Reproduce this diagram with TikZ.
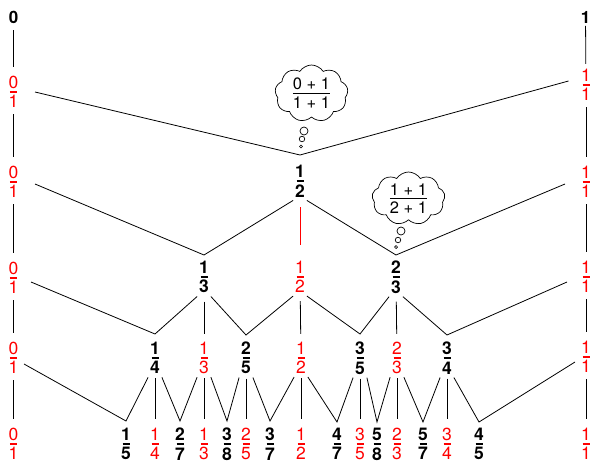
\documentclass[tikz,border=0pt]{standalone}
\usepackage{fontspec}
\setmainfont{TeX Gyre Heros}
\usetikzlibrary{shapes.symbols,calc}

\definecolor{fracred}{RGB}{255,0,0}

% stacked fraction: numerator, short bar, denominator
\newcommand\stackfrac[3]{\vbox{\offinterlineskip
  \hbox to 10pt{\hss#2\hss}\kern2.5pt
  \hbox to 10pt{\hss\vrule width 7pt height #1 depth 0pt\hss}\kern2.5pt
  \hbox to 10pt{\hss#3\hss}}}
\newcommand\bfr[2]{\stackfrac{2pt}{#1}{#2}}
\newcommand\rfr[2]{\stackfrac{1.5pt}{#1}{#2}}
% fraction written inside a thought cloud
\newcommand\sumfrac[2]{\vbox{\offinterlineskip
  \hbox{#1}\kern3pt\hrule height .8pt\kern3pt\hbox{#2}}}

\tikzset{
  numfont/.style={font=\fontsize{17.5}{19}\selectfont},
  fracnode/.style={numfont, inner xsep=1.5pt, inner ysep=3pt},
  blk/.style={fracnode, font=\fontsize{17.5}{19}\selectfont\bfseries},
  rd/.style={fracnode, text=fracred},
  endlabel/.style={font=\fontsize{17}{19}\selectfont\bfseries, inner sep=0pt},
  stem/.style={shorten <=3pt, shorten >=6pt},
  thought/.style={cloud, draw, cloud puffs=9, cloud puff arc=115, aspect=1.3,
    inner sep=0pt, font=\fontsize{16.5}{18}\selectfont, line width=0.7pt},
  puff/.style={circle, draw, inner sep=0pt, line width=0.7pt},
}

\begin{document}
\begin{tikzpicture}[x=1pt, y=-1pt, line width=0.8pt]
\useasboundingbox (0,0) rectangle (592,463);

% ends of the interval
\node[endlabel] (zero) at (13.5,17.5) {0};
\node[endlabel] (one) at (585.5,17.5) {1};

% left column 0/1
\node[rd] (L1) at (13.5,92) {\rfr{0}{1}};
\node[rd] (L2) at (13.5,182) {\rfr{0}{1}};
\node[rd] (L3) at (13.5,278) {\rfr{0}{1}};
\node[rd] (L4) at (13.5,358) {\rfr{0}{1}};
\node[rd] (L5) at (13.5,444) {\rfr{0}{1}};

% right column 1/1
\node[rd] (R1) at (586,85) {\rfr{1}{1}};
\node[rd] (R2) at (586,182) {\rfr{1}{1}};
\node[rd] (R3) at (586,277) {\rfr{1}{1}};
\node[rd] (R4) at (586,357) {\rfr{1}{1}};
\node[rd] (R5) at (586,444) {\rfr{1}{1}};

% level 2
\node[blk] (h) at (300,181) {\bfr{1}{2}};

% level 3
\node[blk] (a3) at (204,277) {\bfr{1}{3}};
\node[rd]  (b3) at (300,277) {\rfr{1}{2}};
\node[blk] (c3) at (396,277) {\bfr{2}{3}};

% level 4
\node[blk] (d1) at (155,358) {\bfr{1}{4}};
\node[rd]  (d2) at (204,358) {\rfr{1}{3}};
\node[blk] (d3) at (246,358) {\bfr{2}{5}};
\node[rd]  (d4) at (301,358) {\rfr{1}{2}};
\node[blk] (d5) at (360,358) {\bfr{3}{5}};
\node[rd]  (d6) at (397,358) {\rfr{2}{3}};
\node[blk] (d7) at (447,358) {\bfr{3}{4}};

% level 5
\node[blk] (e1)  at (126,444) {\bfr{1}{5}};
\node[rd]  (e2)  at (155,444) {\rfr{1}{4}};
\node[blk] (e3)  at (180,444) {\bfr{2}{7}};
\node[rd]  (e4)  at (204,444) {\rfr{1}{3}};
\node[blk] (e5)  at (227,444) {\bfr{3}{8}};
\node[rd]  (e6)  at (246,444) {\rfr{2}{5}};
\node[blk] (e7)  at (270,444) {\bfr{3}{7}};
\node[rd]  (e8)  at (301,444) {\rfr{1}{2}};
\node[blk] (e9)  at (337,444) {\bfr{4}{7}};
\node[rd]  (e10) at (360,444) {\rfr{3}{5}};
\node[blk] (e11) at (377,444) {\bfr{5}{8}};
\node[rd]  (e12) at (397,444) {\rfr{2}{3}};
\node[blk] (e13) at (423,444) {\bfr{5}{7}};
\node[rd]  (e14) at (447,444) {\rfr{3}{4}};
\node[blk] (e15) at (479,444) {\bfr{4}{5}};

% corners of the zigzags, just above each new fraction
\coordinate (v1)  at ($(h)+(0,-26)$);
\coordinate (v2a) at ($(a3)+(0,-22)$);
\coordinate (v2b) at ($(c3)+(0,-22)$);
\coordinate (v3a) at ($(d1)+(0,-24)$);
\coordinate (v3b) at ($(d3)+(0,-23)$);
\coordinate (v3c) at ($(d5)+(0,-24)$);
\coordinate (v3d) at ($(d7)+(0,-23)$);
\coordinate (v4a) at ($(e1)+(0,-23)$);
\coordinate (v4b) at ($(e3)+(0,-23)$);
\coordinate (v4c) at ($(e5)+(0,-23)$);
\coordinate (v4d) at ($(e7)+(0,-23)$);
\coordinate (v4e) at ($(e9)+(0,-22)$);
\coordinate (v4f) at ($(e11)+(0,-22)$);
\coordinate (v4g) at ($(e13)+(0,-22)$);
\coordinate (v4h) at ($(e15)+(0,-22)$);

% zigzag lines between neighbours
\draw ($(L1)+(21.5,0)$) -- (v1) -- ($(R1)+(-17.5,-4)$);

\draw ($(L2)+(21.5,2)$) -- (v2a) -- (h.south west);
\draw (h.south east) -- (v2b) -- ($(R2)+(-21,2)$);

\draw ($(L3)+(17.5,4)$) -- (v3a) -- (a3.south west);
\draw (a3.south east) -- (v3b) -- (b3.south west);
\draw (b3.south east) -- (v3c) -- (c3.south west);
\draw (c3.south east) -- (v3d) -- ($(R3)+(-19,5)$);

\draw ($(L4)+(10.5,6)$) -- (v4a) -- (d1.south west);
\draw (d1.south east) -- (v4b) -- (d2.south west);
\draw (d2.south east) -- (v4c) -- (d3.south west);
\draw (d3.south east) -- (v4d) -- (d4.south west);
\draw (d4.south east) -- (v4e) -- (d5.south west);
\draw (d5.south east) -- (v4f) -- (d6.south west);
\draw (d6.south east) -- (v4g) -- (d7.south west);
\draw (d7.south east) -- (v4h) -- ($(R4)+(-11,5)$);

% vertical stems on the two sides
\draw[shorten <=6pt, shorten >=6pt] (zero) -- (L1);
\draw[stem] (L1) -- (L2);
\draw[stem] (L2) -- (L3);
\draw[stem] (L3) -- (L4);
\draw[stem] (L4) -- (L5);
\draw[shorten <=2pt, shorten >=2pt] (one) -- (R1);
\draw[stem] (R1) -- (R2);
\draw[stem] (R2) -- (R3);
\draw[stem] (R3) -- (R4);
\draw[stem] (R4) -- (R5);

% vertical stems inside the tree
\draw[fracred, shorten <=7pt, shorten >=13pt] (h) -- (b3);
\draw[shorten <=5pt, shorten >=5pt] (a3) -- (d2);
\draw[shorten <=5pt, shorten >=5pt] (b3) -- (d4);
\draw[shorten <=5pt, shorten >=5pt] (c3) -- (d6);
\foreach \p/\c in {d1/e2, d2/e4, d3/e6, d4/e8, d5/e10, d6/e12, d7/e14}
  \draw[shorten <=1pt, shorten >=6pt] (\p) -- (\c);

% thought clouds
\node[thought, minimum width=73pt, minimum height=57pt] (t1) at (311.5,93.5)
  {\sumfrac{0 + 1}{1 + 1}};
\node[puff, minimum size=8pt] (t1a) at (304,131) {};
\node[puff, minimum size=5.5pt] (t1b) at (302,139) {};
\node[puff, minimum size=3pt] (t1c) at (301,146.5) {};

\node[thought, minimum width=73pt, minimum height=53pt] (t2) at (408.5,198.5)
  {\sumfrac{1 + 1}{2 + 1}};
\node[puff, minimum size=8pt] (t2a) at (401,231) {};
\node[puff, minimum size=5.5pt] (t2b) at (398,240) {};
\node[puff, minimum size=3pt] (t2c) at (396,247) {};
\end{tikzpicture}
\end{document}
